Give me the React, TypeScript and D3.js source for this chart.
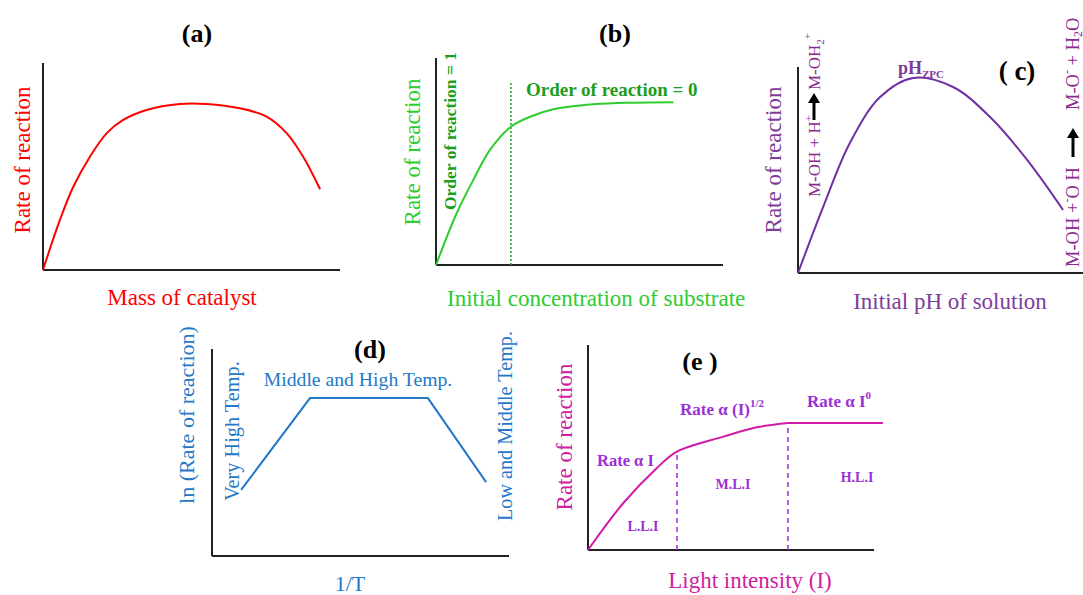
import React from "react";
import { scaleLinear, line, curveLinear, curveCatmullRom } from "d3";

// schematic curves, in % of each panel's axis length
const curveA: [number, number][] = [
  [0, 0], [5.7, 24.2], [10.2, 40.2], [15.8, 54.7], [21.4, 66], [27, 72.5], [34.9, 77.3],
  [46.1, 80.2], [55.1, 80.2], [66.3, 78.1], [75.3, 74.1], [82.1, 66], [87.6, 54.7], [93.3, 39],
];
const curveB: [number, number][] = [
  [0, 0], [7.2, 25], [13, 41.1], [18.8, 55.6], [26.1, 66.8], [32.8, 71.6], [40.9, 75.2],
  [54.8, 77.6], [68.7, 78.4], [82.7, 78.6],
];
const orderSplitB = 26.1;
const curveC: [number, number][] = [
  [0, 0], [8.8, 32], [18.2, 63.1], [28.8, 85.4], [40.4, 94.7], [54.4, 90.3], [67.4, 75.7],
  [80.4, 54.9], [93, 30.6],
];
const curveD: [number, number][] = [[9.8, 31.9], [33, 76.3], [72.7, 76.3], [92.3, 35.7]];
// rising part of (e), then the plateau
const curveE: [number, number][] = [
  [0, 0], [12.3, 22.8], [24, 39.9], [31.1, 48], [47.3, 55.3], [59, 59.9], [69.9, 62],
];
const plateauE: [number, number][] = [[69.9, 62], [103.1, 62]];
const regionSplitsE = [31.1, 69.9];

const serif = "'Liberation Serif', 'Times New Roman', serif";

type Frame = { x0: number; x1: number; y0: number; y1: number };

function scales(f: Frame) {
  const x = scaleLinear().domain([0, 100]).range([f.x0, f.x1]);
  const y = scaleLinear().domain([0, 100]).range([f.y0, f.y1]);
  return { x, y };
}

const Axes = ({ f }: { f: Frame }) => (
  <g stroke="#222" strokeWidth={2} fill="none">
    <line x1={f.x0} y1={f.y1} x2={f.x0} y2={f.y0} />
    <line x1={f.x0} y1={f.y0} x2={f.x1} y2={f.y0} />
  </g>
);

const VText = ({ x, y, children, ...rest }: any) => (
  <text transform={`translate(${x},${y}) rotate(-90)`} textAnchor="middle" fontFamily={serif} {...rest}>
    {children}
  </text>
);

const Arrow = ({ x1, x2 }: { x1: number; x2: number }) => (
  <g>
    <line x1={x1} y1={0} x2={x2 - 7} y2={0} stroke="#000" strokeWidth={3} />
    <polygon points={`${x2},0 ${x2 - 10},-6 ${x2 - 10},6`} fill="#000" />
  </g>
);

export default function App() {
  const fa: Frame = { x0: 43, x1: 340, y0: 270, y1: 63 };
  const fb: Frame = { x0: 436, x1: 723, y0: 265, y1: 58 };
  const fc: Frame = { x0: 798, x1: 1083, y0: 273, y1: 67 };
  const fd: Frame = { x0: 212, x1: 509, y0: 556, y1: 349 };
  const fe: Frame = { x0: 588, x1: 874, y0: 550, y1: 345 };

  const sa = scales(fa), sb = scales(fb), sc = scales(fc), sd = scales(fd), se = scales(fe);
  const path = (s: any, data: [number, number][], curve: any) =>
    line<[number, number]>().x((d) => s.x(d[0])).y((d) => s.y(d[1])).curve(curve)(data) || "";

  const cPurple = "#7d3c98";
  const eLabel = "#9b2fd6";

  return (
    <svg width={1083} height={595} style={{ position: "absolute", left: 0, top: 0, background: "#fff" }}>
      <defs>
        <clipPath id="clipB">
          <rect x={360} y={0} width={385} height={320} />
        </clipPath>
      </defs>

      {/* (a) */}
      <text x={197} y={42} textAnchor="middle" fontFamily={serif} fontWeight="bold" fontSize={26}>(a)</text>
      <Axes f={fa} />
      <path d={path(sa, curveA, curveCatmullRom)} fill="none" stroke="#ff0000" strokeWidth={2} />
      <VText x={30} y={160} fontSize={23} fill="#ff0000">Rate of reaction</VText>
      <text x={182} y={305} textAnchor="middle" fontFamily={serif} fontSize={23} fill="#ff0000">Mass of catalyst</text>

      {/* (b) */}
      <text x={615} y={42} textAnchor="middle" fontFamily={serif} fontWeight="bold" fontSize={26}>(b)</text>
      <Axes f={fb} />
      <line x1={sb.x(orderSplitB)} x2={sb.x(orderSplitB)} y1={sb.y(0)} y2={sb.y(88)} stroke="#1e9e1e" strokeWidth={1.5} strokeDasharray="2,2" />
      <path d={path(sb, curveB, curveCatmullRom)} fill="none" stroke="#2ecc2e" strokeWidth={2} />
      <VText x={420} y={152} fontSize={23} fill="#2ecc2e">Rate of reaction</VText>
      <VText x={456} y={131} fontSize={17.5} fontWeight="bold" fill="#1e9e1e">Order of reaction = 1</VText>
      <text x={526} y={96} fontFamily={serif} fontSize={19} fontWeight="bold" fill="#1e9e1e">Order of reaction = 0</text>
      <g clipPath="url(#clipB)">
        <text x={447} y={306} fontFamily={serif} fontSize={23} fill="#2ecc2e">Initial concentration of substrate</text>
      </g>

      {/* (c) */}
      <text x={1017} y={80} textAnchor="middle" fontFamily={serif} fontWeight="bold" fontSize={27}>( c)</text>
      <Axes f={fc} />
      <path d={path(sc, curveC, curveCatmullRom)} fill="none" stroke="#7030a0" strokeWidth={2} />
      <VText x={781} y={160} fontSize={23} fill={cPurple}>Rate of reaction</VText>
      <text x={950} y={309} textAnchor="middle" fontFamily={serif} fontSize={23} fill={cPurple}>Initial pH of solution</text>
      <text x={898} y={74} fontFamily={serif} fontSize={18} fontWeight="bold" fill={cPurple}>
        pH<tspan fontSize={11} dy={4}>ZPC</tspan>
      </text>
      <g transform="translate(820,197) rotate(-90)" fontFamily={serif} fontSize={17} fill="#8a2a8f">
        <text x={0} y={0}>M-OH + H<tspan fontSize={11} dy={-8}>+</tspan></text>
        <g transform="translate(0,-6)"><Arrow x1={77} x2={104} /></g>
        <text x={107} y={0}>M-OH<tspan fontSize={11} dy={4}>2</tspan><tspan fontSize={11} dy={-13}>+</tspan></text>
      </g>
      <g transform="translate(1079,267) rotate(-90)" fontFamily={serif} fontSize={18.5} fill="#8a2a8f">
        <text x={0} y={0}>M-OH +<tspan fontSize={12} dy={-8}>-</tspan><tspan dy={8}>O H</tspan></text>
        <g transform="translate(0,-6)"><Arrow x1={110} x2={139} /></g>
        <text x={157} y={0}>M-O<tspan fontSize={12} dy={-8}>-</tspan><tspan dy={8}> + H</tspan><tspan fontSize={12} dy={2.5}>2</tspan><tspan dy={-2.5}>O</tspan></text>
      </g>

      {/* (d) */}
      <text x={370} y={358} textAnchor="middle" fontFamily={serif} fontWeight="bold" fontSize={26}>(d)</text>
      <Axes f={fd} />
      <path d={path(sd, curveD, curveLinear)} fill="none" stroke="#2478c8" strokeWidth={2} />
      <VText x={194} y={415} fontSize={22} fill="#2478c8">ln (Rate of reaction)</VText>
      <VText x={239} y={431} fontSize={20.3} fill="#2478c8">Very High Temp.</VText>
      <VText x={512} y={426} fontSize={20.2} fill="#2478c8">Low and Middle  Temp.</VText>
      <text x={358} y={386} textAnchor="middle" fontFamily={serif} fontSize={19.7} fill="#2478c8">Middle and High Temp.</text>
      <text x={350} y={591} textAnchor="middle" fontFamily={serif} fontSize={22} fill="#2478c8">1/T</text>

      {/* (e) */}
      <text x={700} y={370} textAnchor="middle" fontFamily={serif} fontWeight="bold" fontSize={26}>(e )</text>
      <Axes f={fe} />
      {regionSplitsE.map((v, i) => (
        <line key={i} x1={se.x(v)} x2={se.x(v)} y1={se.y(0)} y2={se.y(curveE.find((d) => d[0] === v)![1])}
          stroke={eLabel} strokeWidth={1.5} strokeDasharray="5,4" />
      ))}
      <path d={path(se, curveE, curveCatmullRom)} fill="none" stroke="#d21aa6" strokeWidth={2} />
      <path d={path(se, plateauE, curveLinear)} fill="none" stroke="#d21aa6" strokeWidth={2} />
      <VText x={572} y={437} fontSize={23} fill="#d020a0">Rate of reaction</VText>
      <text x={750} y={588} textAnchor="middle" fontFamily={serif} fontSize={23} fill="#d020a0">Light intensity (I)</text>
      <g fontFamily={serif} fontWeight="bold" fill={eLabel}>
        <text x={597} y={466} fontSize={16.5}>Rate α I</text>
        <text x={680} y={415} fontSize={17}>Rate α (I)<tspan fontSize={11} dy={-8}>1/2</tspan></text>
        <text x={807} y={407} fontSize={17}>Rate α I<tspan fontSize={11} dy={-8}>0</tspan></text>
        <text x={643} y={531} fontSize={14} textAnchor="middle">L.L.I</text>
        <text x={733} y={489} fontSize={14} textAnchor="middle">M.L.I</text>
        <text x={857} y={482} fontSize={14} textAnchor="middle">H.L.I</text>
      </g>
    </svg>
  );
}
